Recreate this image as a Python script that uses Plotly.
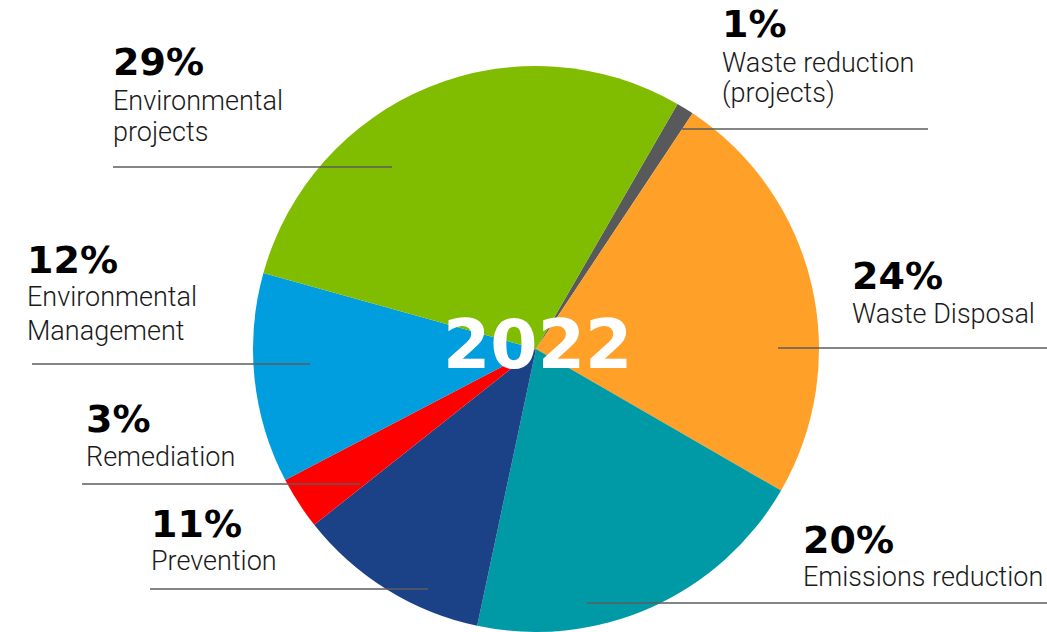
import plotly.graph_objects as go

# Environmental expenditure split, 2022 (percent of total)
categories = [
    "Waste reduction (projects)",
    "Waste Disposal",
    "Emissions reduction",
    "Prevention",
    "Remediation",
    "Environmental Management",
    "Environmental projects",
]
shares = [1, 24, 20, 11, 3, 12, 29]
label_lines = [
    ["Waste reduction", "(projects)"],
    ["Waste Disposal"],
    ["Emissions reduction"],
    ["Prevention"],
    ["Remediation"],
    ["Environmental", "Management"],
    ["Environmental", "projects"],
]
slice_colors = ["#58595b", "#ffa028", "#009aa6", "#1b4187", "#ff0000", "#009ddf", "#80bc00"]
year_label = "2022"

W, H = 1047, 632

fig = go.Figure(
    go.Pie(
        labels=categories,
        values=shares,
        sort=False,
        direction="clockwise",
        rotation=30,
        marker=dict(colors=slice_colors, line=dict(width=0)),
        textinfo="none",
        hoverinfo="label+percent",
        domain=dict(x=[(536 - 300) / W, (536 + 300) / W], y=[0, 566 / H]),
    )
)

PCT_FONT = dict(family="DejaVu Sans", size=38, color="#000000", weight="bold")
TXT_FONT = dict(family="Roboto", size=27, color="#1a1a1a", weight=300)


def px_x(x):
    return x / W


def px_y(y):
    return 1 - y / H


def put_text(x, baseline, text, font, center_ratio):
    fig.add_annotation(
        x=px_x(x), y=px_y(baseline - center_ratio * font["size"]),
        xref="paper", yref="paper", xanchor="left", yanchor="middle",
        text=text, showarrow=False, font=font, borderpad=0,
    )


# label block layout per slice: left x, percent baseline, first text baseline, line step
blocks = [
    (722, 37, 72, 30),
    (852, 289, 323, 30),
    (803, 553, 586, 30),
    (151, 537, 570, 30),
    (86, 432, 466, 30),
    (27, 273, 306, 34),
    (113, 75, 110, 31),
]
# leader lines per slice: x0, x1, y
leaders = [
    (682, 928, 129),
    (778, 1047, 348),
    (587, 1047, 603),
    (150, 428, 589),
    (82, 360, 484),
    (32, 310, 364),
    (113, 392, 167),
]

for share, lines, (lx, pb, tb, step), (x0, x1, ly) in zip(shares, label_lines, blocks, leaders):
    put_text(lx - 1, pb, f"{share}%", PCT_FONT, 0.346)
    for k, line in enumerate(lines):
        put_text(lx - 1, tb + k * step, line, TXT_FONT, 0.342)
    fig.add_shape(
        type="line", xref="paper", yref="paper",
        x0=px_x(x0), x1=px_x(x1), y0=px_y(ly), y1=px_y(ly),
        line=dict(color="#5c5c5c", width=1.5),
    )

fig.add_annotation(
    x=px_x(537), y=px_y(344), xref="paper", yref="paper",
    xanchor="center", yanchor="middle", text=year_label, showarrow=False,
    font=dict(family="DejaVu Sans", size=68, color="#ffffff", weight="bold"),
)

fig.update_layout(
    width=W, height=H,
    margin=dict(l=0, r=0, t=0, b=0),
    paper_bgcolor="#ffffff",
    plot_bgcolor="#ffffff",
    showlegend=False,
)

fig.write_html("out.html")
